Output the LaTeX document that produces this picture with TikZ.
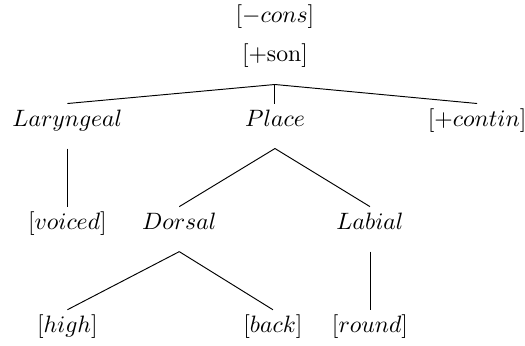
\documentclass[tikz,border=0pt]{standalone}
\usepackage{amsmath}
\usepackage{tikz}
\usetikzlibrary{positioning}

\begin{document}
\begin{tikzpicture}[node distance=1.53cm,on grid,feat/.style={inner sep=0pt,text height=9.3pt,text depth=9.3pt}]
          \useasboundingbox (-4.08,0.92) rectangle (3.71,-4.20);
          \node[feat]          (son)                                   {$[+\mathrm{son}]$};
          \node[feat]          (cons)   [above=0.58cm of son]          {$[-cons]$};
          \node[feat]          (lar)    [below left=0.95cm and 3.08cm of son]   {$Laryngeal$};
          \node[feat]          (place)  [below=0.95cm of son]          {$Place$};
          \node[feat]          (contin) [below right=0.95cm and 3.0cm of son]   {$[+contin]$};
          \node[feat]          (voiced) [below=of lar]                 {$[voiced]$};
          \node[feat]          (dorsal) [below left=1.53cm and 1.42cm of place]  {$Dorsal$};
          \node[feat]          (labial) [below right=1.53cm and 1.41cm of place] {$Labial$};
          \node[feat]          (high)   [below left=1.53cm and 1.66cm of dorsal] {$[high]$};
          \node[feat]          (back)   [below right=1.53cm and 1.39cm of dorsal] {$[back]$};
          \node[feat]          (round)  [below=of labial]              {$[round]$};
          \tikzset{branch/.style={-}}
          \path (son.south)    edge [branch]  (lar.north)
          (son.south)    edge [branch]  (place.north)
          (son.south)    edge [branch]  (contin.north)
          (lar.south)    edge [branch]  (voiced.north)
          (place.south)  edge [branch]  (dorsal.north)
          (place.south)  edge [branch]  (labial.north)
          (dorsal.south) edge [branch]  (high.north)
          (dorsal.south) edge [branch]  (back.north)
          (labial.south) edge [branch]  (round.north);
        \end{tikzpicture}
\end{document}
